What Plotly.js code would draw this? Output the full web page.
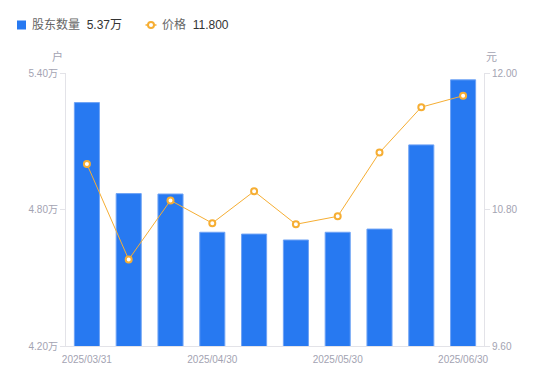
<!DOCTYPE html>
<html>
<head>
<meta charset="utf-8">
<script src="https://cdn.plot.ly/plotly-3.0.1.min.js"></script>
<style>
html,body{margin:0;padding:0;background:#fff;}
#chart{width:550px;height:381px;}
</style>
</head>
<body>
<div id="chart"></div>
<script>
// Data
const dates = ['2025/03/31','2025/04/10','2025/04/18','2025/04/30','2025/05/09','2025/05/20','2025/05/30','2025/06/10','2025/06/20','2025/06/30'];
const holders = [5.27, 4.87, 4.868, 4.70, 4.692, 4.666, 4.70, 4.714, 5.084, 5.37]; // 万户
const prices = [11.20, 10.36, 10.88, 10.68, 10.96, 10.67, 10.74, 11.30, 11.70, 11.80]; // 元
const shownDates = ['2025/03/31','2025/04/30','2025/05/30','2025/06/30'];
const leftTicks = [4.20, 4.80, 5.40];
const rightTicks = [9.60, 10.80, 12.00];
const seriesNames = ['股东数量', '价格'];

const blue = '#2779f1';
const orange = '#f6ae33';
const gray = '#a3a3b2';
const axisLine = '#e3e3e8';
const fontFam = '"Liberation Sans", Arial, "Noto Sans CJK SC", sans-serif';

const lastH = holders[holders.length-1].toFixed(2) + '万';
const lastP = prices[prices.length-1].toFixed(3);

// layout geometry helpers (pixel -> paper) for the custom legend
const M = {l: 66, r: 66, t: 73, b: 35};
const W = 550, H = 381;
const pw = W - M.l - M.r, ph = H - M.t - M.b;
const px = p => (p - M.l) / pw;
const py = p => (H - M.b - p) / ph;

const traces = [
  {
    type: 'bar', x: dates, y: holders, yaxis: 'y', name: seriesNames[0],
    marker: {color: blue, line: {color: '#6fa3f5', width: 1}},
    width: 0.6
  },
  {
    type: 'scatter', mode: 'lines+markers', x: dates, y: prices, yaxis: 'y2', name: seriesNames[1],
    line: {color: orange, width: 1},
    marker: {symbol: 'circle', size: 6, color: '#fff', line: {color: orange, width: 2}}
  }
];

const legY = 25;
const layout = {
  width: W, height: H,
  margin: M,
  paper_bgcolor: '#fff', plot_bgcolor: '#fff',
  font: {family: fontFam, size: 10, color: gray},
  showlegend: false,
  bargap: 0.4,
  xaxis: {
    type: 'category', range: [-0.5, dates.length - 0.5],
    tickmode: 'array', tickvals: shownDates, ticktext: shownDates,
    showgrid: false, showline: true, linecolor: axisLine, linewidth: 1,
    ticks: '', ticklabelstandoff: 4, tickfont: {size: 10, color: gray}, zeroline: false
  },
  yaxis: {
    range: [4.20, 5.40], tickmode: 'array', tickvals: leftTicks,
    ticktext: leftTicks.map(v => v.toFixed(2) + '万'),
    showgrid: false, showline: true, linecolor: axisLine, linewidth: 1,
    ticks: 'outside', ticklen: 5, tickcolor: axisLine, zeroline: false,
    tickfont: {size: 10, color: gray}
  },
  yaxis2: {
    range: [9.60, 12.00], overlaying: 'y', side: 'right', tickmode: 'array',
    tickvals: rightTicks, ticktext: rightTicks.map(v => v.toFixed(2)),
    showgrid: false, showline: true, linecolor: axisLine, linewidth: 1,
    ticks: 'outside', ticklen: 5, tickcolor: axisLine, zeroline: false,
    tickfont: {size: 10, color: gray}
  },
  shapes: [
    {type: 'rect', xref: 'paper', yref: 'paper', x0: px(17), x1: px(26), y0: py(29.5), y1: py(20.5),
     fillcolor: blue, line: {width: 0}},
    {type: 'line', xref: 'paper', yref: 'paper', x0: px(145.5), x1: px(156.5), y0: py(legY), y1: py(legY),
     line: {color: orange, width: 1.5}},
    {type: 'circle', xref: 'paper', yref: 'paper', x0: px(148), x1: px(154), y0: py(legY + 3), y1: py(legY - 3),
     fillcolor: '#fff', line: {color: orange, width: 2}}
  ],
  annotations: [
    {text: '户', xref: 'paper', yref: 'paper', x: 0, y: 1, xanchor: 'right', yanchor: 'bottom',
     xshift: -1, yshift: 8, showarrow: false, font: {size: 11, color: gray}},
    {text: '元', xref: 'paper', yref: 'paper', x: 1, y: 1, xanchor: 'left', yanchor: 'bottom',
     xshift: 0, yshift: 8, showarrow: false, font: {size: 11, color: gray}},
    {text: seriesNames[0] + '&nbsp;&nbsp;<span style="color:#333">' + lastH + '</span>',
     xref: 'paper', yref: 'paper', x: px(30), y: py(legY), xanchor: 'left', yanchor: 'middle',
     showarrow: false, font: {size: 12, color: '#666'}},
    {text: seriesNames[1] + '&nbsp;&nbsp;<span style="color:#333">' + lastP + '</span>',
     xref: 'paper', yref: 'paper', x: px(160), y: py(legY), xanchor: 'left', yanchor: 'middle',
     showarrow: false, font: {size: 12, color: '#666'}}
  ]
};

Plotly.newPlot('chart', traces, layout, {displayModeBar: false, staticPlot: true});
</script>
</body>
</html>
